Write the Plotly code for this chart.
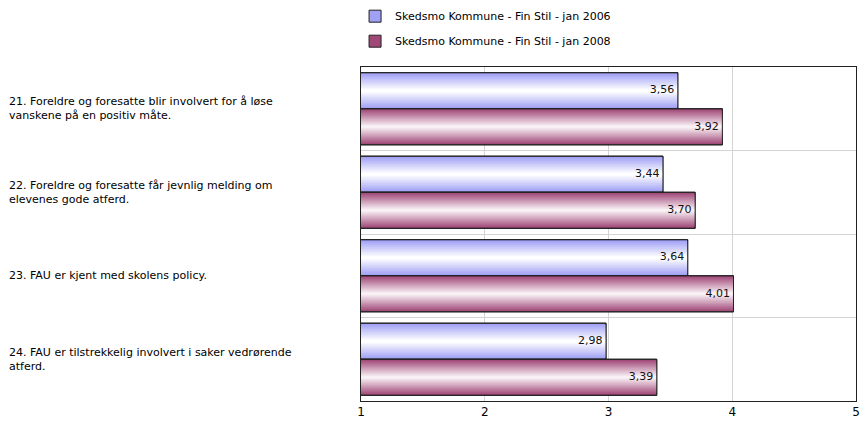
import plotly.graph_objects as go

# Survey statements (one group of bars each)
statements = [
    "21. Foreldre og foresatte blir involvert for å løse<br>vanskene på en positiv måte.",
    "22. Foreldre og foresatte får jevnlig melding om<br>elevenes gode atferd.",
    "23. FAU er kjent med skolens policy.",
    "24. FAU er tilstrekkelig involvert i saker vedrørende<br>atferd.",
]
series_names = [
    "Skedsmo Kommune - Fin Stil - jan 2006",
    "Skedsmo Kommune - Fin Stil - jan 2008",
]
values_2006 = [3.56, 3.44, 3.64, 2.98]
values_2008 = [3.92, 3.70, 4.01, 3.39]
x_ticks = [1, 2, 3, 4, 5]

series_values = [values_2006, values_2008]
edge_colors = [(160, 160, 245), (160, 72, 120)]
center_colors = [(255, 255, 255), (248, 240, 244)]

positions = list(range(len(statements)))
bar_h = 0.432
centers = [-bar_h / 2, bar_h / 2]   # offset of each series from its group position
n_layers = 12


def mix(c1, c2, t):
    return "rgb({},{},{})".format(*[round(a + (b - a) * t) for a, b in zip(c1, c2)])


def fmt(v):
    return f"{v:.2f}".replace(".", ",") + " "


fig = go.Figure()

for s, (name, vals) in enumerate(zip(series_names, series_values)):
    # nested bars of shrinking height give a vertical shading from edge to centre
    for k in range(n_layers):
        t = k / (n_layers - 1)
        w = bar_h * (1 - t * 0.92)
        fig.add_trace(go.Bar(
            x=vals, y=positions, orientation="h",
            width=w, offset=centers[s] - w / 2,
            marker=dict(color=mix(edge_colors[s], center_colors[s], t),
                        line=dict(width=1 if k == 0 else 0, color="#222222")),
            name=name, showlegend=(k == 0), legendgroup=name,
            hoverinfo="skip",
        ))
    # crisp outline on top of the shading
    fig.add_trace(go.Bar(
        x=vals, y=positions, orientation="h",
        width=bar_h, offset=centers[s] - bar_h / 2,
        marker=dict(color="rgba(0,0,0,0)", line=dict(width=1, color="#222222")),
        showlegend=False, legendgroup=name, hoverinfo="skip",
    ))
    # value labels at the end of each bar
    fig.add_trace(go.Scatter(
        x=vals, y=[p + centers[s] for p in positions],
        mode="text", text=[fmt(v) for v in vals],
        textposition="middle left",
        textfont=dict(family="DejaVu Sans", size=11, color="#111111"),
        showlegend=False, hoverinfo="skip",
    ))

# statement labels, left-aligned at the far left of the figure
for p, txt in zip(positions, statements):
    fig.add_annotation(
        x=-0.715, xref="paper", y=p, yref="y",
        text=txt, showarrow=False, xanchor="left", yanchor="middle", align="left",
        font=dict(family="DejaVu Sans", size=11, color="#000000"),
    )

fig.update_layout(
    width=865, height=421,
    margin=dict(l=361, r=9, t=67, b=20, autoexpand=False),
    paper_bgcolor="white", plot_bgcolor="white",
    barmode="overlay",
    showlegend=True,
    legend=dict(x=-0.012, y=0.996, xref="paper", yref="container",
                xanchor="left", yanchor="top",
                font=dict(family="DejaVu Sans", size=11, color="#000000"),
                traceorder="grouped", tracegroupgap=6,
                bgcolor="rgba(0,0,0,0)"),
    font=dict(family="DejaVu Sans", size=11, color="#000000"),
)
fig.update_xaxes(
    range=[1, 5], tickvals=x_ticks, ticktext=[str(v) for v in x_ticks],
    showgrid=True, gridcolor="#d4d4d4", gridwidth=1,
    showline=True, linecolor="#222222", linewidth=1, mirror=True,
    zeroline=False, ticks="", tickfont=dict(family="DejaVu Sans", size=12),
    automargin=False,
)
fig.update_yaxes(
    range=[len(statements) - 0.5, -0.5],
    tickvals=[p + 0.5 for p in positions[:-1]], showticklabels=False,
    showgrid=True, gridcolor="#d4d4d4", gridwidth=1,
    showline=True, linecolor="#222222", linewidth=1, mirror=True,
    zeroline=False, ticks="", automargin=False,
)

fig.write_html("out.html")
